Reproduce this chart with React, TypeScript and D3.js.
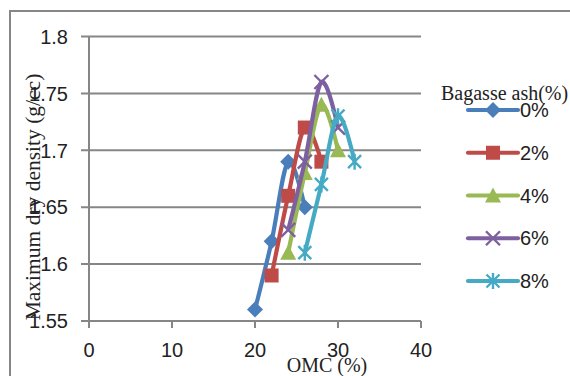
import React from "react";
import * as d3 from "d3";

// OMC (%) vs maximum dry density (g/cc), one series per bagasse ash content
const seriesNames = ["0%", "2%", "4%", "6%", "8%"];
const omc0 = [20, 22, 24, 26];
const mdd0 = [1.56, 1.62, 1.69, 1.65];
const omc2 = [22, 24, 26, 28];
const mdd2 = [1.59, 1.66, 1.72, 1.69];
const omc4 = [24, 26, 28, 30];
const mdd4 = [1.61, 1.68, 1.74, 1.7];
const omc6 = [24, 26, 28, 30];
const mdd6 = [1.63, 1.69, 1.76, 1.72];
const omc8 = [26, 28, 30, 32];
const mdd8 = [1.61, 1.67, 1.73, 1.69];
const xTicks = [0, 10, 20, 30, 40];
const yTicks = [1.55, 1.6, 1.65, 1.7, 1.75, 1.8];

const colors = ["#4a7ebb", "#be4b48", "#98b954", "#7d60a0", "#46aac5"];
const markers = ["diamond", "square", "triangle", "x", "star"];

const W = 570;
const H = 376;
const left = 89;
const right = 421;
const top = 36.5;
const bottom = 321;
const grid = "#868686";
const sans = "'Liberation Sans', Arial, sans-serif";
const serif = "'Liberation Serif', 'Times New Roman', serif";

const Marker = ({ kind, x, y, color }) => {
  const t = `translate(${x},${y})`;
  if (kind === "diamond")
    return <path transform={t} d="M0,-8L8,0L0,8L-8,0Z" fill={color} />;
  if (kind === "square")
    return <rect transform={t} x={-7} y={-7} width={14} height={14} fill={color} />;
  if (kind === "triangle")
    return <path transform={t} d="M0,-8L8,7L-8,7Z" fill={color} />;
  if (kind === "x")
    return (
      <path transform={t} d="M-7,-7L7,7M-7,7L7,-7" stroke={color} strokeWidth={2.4} fill="none" />
    );
  return (
    <path transform={t} d="M-6.5,-6.5L6.5,6.5M-6.5,6.5L6.5,-6.5M0,-8L0,8" stroke={color} strokeWidth={2.4} fill="none" />
  );
};

export default function App() {
  const x = d3.scaleLinear().domain([0, 40]).range([left, right]);
  const y = d3.scaleLinear().domain([1.55, 1.8]).range([bottom, top]);

  const xs = [omc0, omc2, omc4, omc6, omc8];
  const ys = [mdd0, mdd2, mdd4, mdd6, mdd8];
  const series = seriesNames.map((name, i) => ({
    name,
    pts: xs[i].map((v, j) => [v, ys[i][j]]),
  }));

  const line = d3
    .line()
    .x((d) => x(d[0]))
    .y((d) => y(d[1]))
    .curve(d3.curveCardinal.tension(0));

  const legendY = d3.scalePoint().domain(seriesNames).range([110, 281]);
  const fmt = d3.format("~g");

  return (
    <svg
      width={W}
      height={H}
      style={{ position: "absolute", left: 0, top: 0, background: "#fff" }}
    >
      <rect x={10} y={11} width={700} height={500} fill="none" stroke={grid} strokeWidth={2} />

      {/* grid + y axis */}
      {yTicks.map((t) => (
        <g key={t}>
          <line x1={left - 8} x2={right} y1={y(t)} y2={y(t)} stroke={grid} strokeWidth={2} />
          <text
            x={68}
            y={y(t)}
            dy="0.36em"
            textAnchor="end"
            fontFamily={sans}
            fontSize={20}
            fill="#222"
          >
            {fmt(t)}
          </text>
        </g>
      ))}
      <line x1={left} x2={left} y1={top} y2={bottom} stroke={grid} strokeWidth={2} />
      {xTicks.map((t) => (
        <g key={t}>
          <line x1={x(t)} x2={x(t)} y1={bottom} y2={bottom + 7} stroke={grid} strokeWidth={2} />
          <text x={x(t)} y={357} textAnchor="middle" fontFamily={sans} fontSize={20} fill="#222">
            {t}
          </text>
        </g>
      ))}

      <text
        transform="translate(40,197) rotate(-90)"
        textAnchor="middle"
        fontFamily={serif}
        fontSize={21.5}
        fill="#222"
      >
        Maximum dry density (g/cc)
      </text>
      <text x={327} y={372} textAnchor="middle" fontFamily={serif} fontSize={20} fill="#222">
        OMC (%)
      </text>

      {series.map((s, i) => (
        <g key={s.name}>
          <path d={line(s.pts)} fill="none" stroke={colors[i]} strokeWidth={4.2} />
          {s.pts.map((p, j) => (
            <Marker key={j} kind={markers[i]} x={x(p[0])} y={y(p[1])} color={colors[i]} />
          ))}
        </g>
      ))}

      {/* legend */}
      <text x={441} y={100} fontFamily={serif} fontSize={20} fill="#222">
        Bagasse ash(%)
      </text>
      {seriesNames.map((n, i) => (
        <g key={n}>
          <line
            x1={468}
            x2={518}
            y1={legendY(n)}
            y2={legendY(n)}
            stroke={colors[i]}
            strokeWidth={4.2}
            strokeLinecap="round"
          />
          <Marker kind={markers[i]} x={493} y={legendY(n)} color={colors[i]} />
          <text x={520} y={legendY(n)} dy="0.36em" fontFamily={sans} fontSize={20} fill="#222">
            {n}
          </text>
        </g>
      ))}
    </svg>
  );
}
